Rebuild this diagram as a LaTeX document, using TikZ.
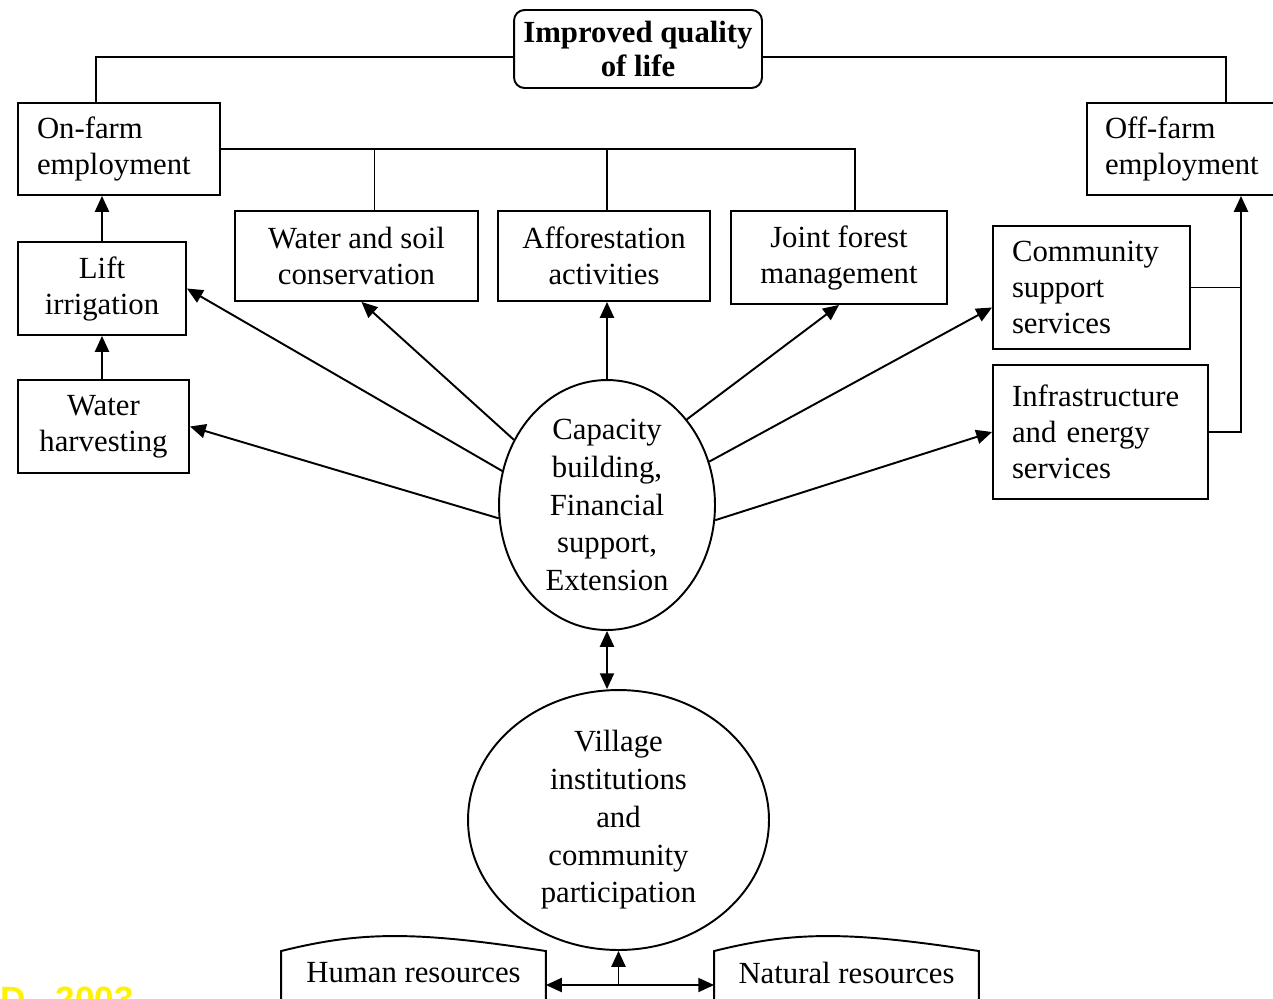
\documentclass[tikz,border=0pt]{standalone}
\usepackage{fontspec}
\setmainfont{Liberation Serif}
\newfontfamily\srcfont{Liberation Sans}
\usepackage{tikz}
\usetikzlibrary{shapes.geometric,arrows.meta}

\begin{document}
\begin{tikzpicture}[x=0.02cm,y=-0.02cm,line width=1.1pt,
	every node/.style={font=\fontsize{17.5}{20.5}\selectfont},
	cbox/.style={draw,align=center,inner sep=0pt},
	lbox/.style={draw,align=left,inner xsep=0.38cm,inner ysep=0pt},
	oval/.style={draw,ellipse,align=center,inner sep=0pt,font=\fontsize{17.5}{21.5}\selectfont},
	arr/.style={-{Triangle[length=9pt,width=8pt]}},
	darr/.style={{Triangle[length=9pt,width=8pt]}-{Triangle[length=9pt,width=8pt]}}]
			\path[use as bounding box,fill=white] (0,0) rectangle (1273,998);
			\node[cbox,rounded corners=6pt,minimum width=4.96cm,minimum height=1.56cm,font={\fontsize{17.5}{19.5}\selectfont\bfseries}] (qol) at (638,49) {Improved quality\\of life};
			\node[lbox,text width=3.28cm,minimum height=1.84cm] (onfarm) at (119,149) {On-farm\\employment};
			\node[lbox,inner xsep=0.36cm,text width=3.14cm,minimum height=1.84cm] (offfarm) at (1183.5,149) {Off-farm\\employment};
			\node[cbox,minimum width=3.36cm,minimum height=1.86cm] (lift) at (102,288.5) {Lift\\irrigation};
			\node[cbox,minimum width=3.42cm,minimum height=1.86cm] (wh) at (103.5,426.5) {Water\\harvesting};
			\node[cbox,minimum width=4.86cm,minimum height=1.8cm] (wsc) at (356.5,256) {Water and soil\\conservation};
			\node[cbox,minimum width=4.24cm,minimum height=1.8cm] (aff) at (604,256) {Afforestation\\activities};
			\node[cbox,minimum width=4.32cm,minimum height=1.86cm] (jfm) at (839,257.5) {Joint forest\\management};
			\node[lbox,text width=3.18cm,minimum height=2.46cm] (csc) at (1091.5,287.5) {Community\\support\\services};
			\node[lbox,text width=3.54cm,minimum height=2.68cm] (infra) at (1100.5,432) {Infrastructure\\and energy\\services};
			\node[oval,minimum width=4.32cm,minimum height=5cm] (cap) at (607,505) {Capacity\\building,\\Financial\\support,\\Extension};
			\node[oval,minimum width=6.02cm,minimum height=5.2cm] (vil) at (618.5,820) {Village\\institutions\\and\\community\\participation};
			\node[minimum width=5.26cm,minimum height=0.84cm,inner sep=0pt] (hum) at (413.5,973) {Human resources};
			\node[minimum width=5.26cm,minimum height=0.84cm,inner sep=0pt] (nat) at (846.5,973) {Natural resources};
			\node[anchor=base west,inner sep=0pt,text=yellow,font={\srcfont\fontsize{20}{24}\selectfont\bfseries}] (src) at (0,1011) {D., 2003};
			% resource outlines
			\draw ([yshift=-0.2cm]hum.south west) -- (hum.north west) .. controls +(80,-20) and +(-130,-20) .. (hum.north east) -- ([yshift=-0.2cm]hum.south east);
			\draw ([yshift=-0.2cm]nat.south west) -- (nat.north west) .. controls +(80,-20) and +(-130,-20) .. (nat.north east) -- ([yshift=-0.2cm]nat.south east);
			% top links
			\draw ([yshift=-0.16cm]qol.west) -| ([xshift=-0.46cm]onfarm.north);
			\draw ([yshift=-0.16cm]qol.east) -| ([xshift=0.85cm]offfarm.north);
			\draw (onfarm.east) -| ([xshift=0.32cm]jfm.north);
			\coordinate (wscup) at ([xshift=0.36cm]wsc.north);
			\draw (wscup) -- (wscup |- onfarm.east);
			\draw (cap.north |- aff.north) -- (cap.north |- onfarm.east);
			\draw[arr] (lift.north) -- (lift.north |- onfarm.south);
			\draw[arr] (wh.north -| lift.north) -- (lift.south);
			\coordinate (offin) at ([xshift=1.15cm]offfarm.south);
			\draw[arr] (infra.east) -| (offin);
			\draw (csc.east) -- (csc.east -| offin);
			% arrows out of capacity building
			\draw[arr] (cap.162) -- (lift.east);
			\draw[arr] (cap.187) -- (wh.east);
			\draw[arr] (cap.145) -- ([xshift=0.1cm]wsc.south);
			\draw[arr] (cap.north) -- (cap.north |- aff.south);
			\draw[arr] (cap.47) -- (jfm.south);
			\draw[arr] (cap.23) -- ([yshift=-0.4cm]csc.west);
			\draw[arr] (cap.-8) -- (infra.west);
			\draw[darr] (cap.south) -- (cap.south |- vil.north);
			% bottom
			\coordinate (j) at (618.5,985);
			\draw[darr] (hum.east |- j) -- (nat.west |- j);
			\draw[arr] (j) -- (vil.south);
		\end{tikzpicture}
\end{document}
